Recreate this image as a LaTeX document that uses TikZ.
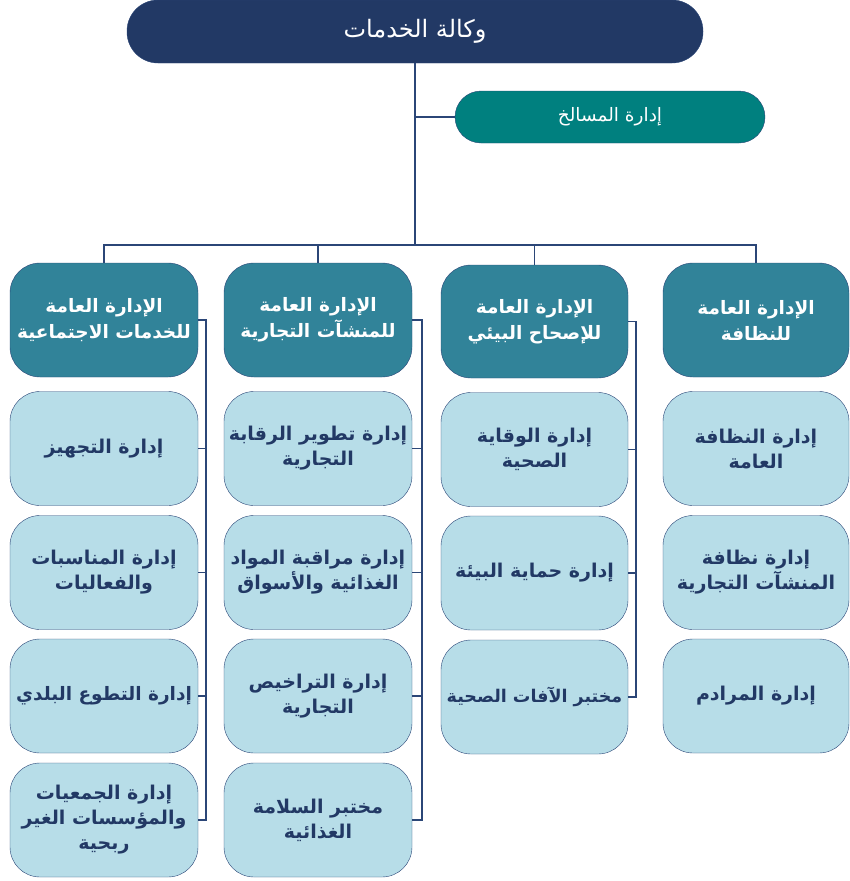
\documentclass[tikz,border=0pt]{standalone}
\usepackage{fontspec}
\newfontfamily\arabicfont[Script=Arabic]{DejaVu Sans}
\TeXXeTstate=1
\newcommand{\artxt}[1]{\beginR #1\endR}
\definecolor{navy}{HTML}{223965}
\definecolor{teal1}{HTML}{00807F}
\definecolor{teal2}{HTML}{318399}
\definecolor{lightb}{HTML}{B7DDE8}
\definecolor{linec}{HTML}{2B4677}
\definecolor{txtc}{HTML}{223965}
\tikzset{
  topbox/.style={draw=linec, fill=navy, rounded corners=31pt, minimum width=576pt, minimum height=63pt, inner sep=0pt, text=white, font=\arabicfont\fontsize{24}{28}\selectfont},
  masbox/.style={draw=linec, fill=teal1, rounded corners=26pt, minimum width=310pt, minimum height=52pt, inner sep=0pt, text=white, font=\arabicfont\fontsize{18.5}{22}\selectfont},
  headbox/.style={draw=linec, fill=teal2, rounded corners=30pt, minimum width=188pt, minimum height=114pt, inner sep=0pt, text=white, align=center, font=\arabicfont\bfseries\fontsize{18.5}{26}\selectfont},
  childbox/.style={draw=linec, fill=lightb, rounded corners=30pt, minimum width=188pt, minimum height=114pt, inner sep=0pt, text=txtc, align=center, font=\arabicfont\bfseries\fontsize{19}{25}\selectfont},
  smalltxt/.style={font=\arabicfont\bfseries\fontsize{17.5}{25}\selectfont},
  midtxt/.style={font=\arabicfont\bfseries\fontsize{18.5}{25}\selectfont},
  conn/.style={draw=linec, line width=1.2pt}
}
\begin{document}
\begin{tikzpicture}[x=1pt,y=-1pt]
\useasboundingbox (0,0) rectangle (849,881);
% top
\node[topbox] (top) at (415,31.5) {\artxt{وكالة الخدمات}};
\node[masbox] (mas) at (610,117) {\artxt{إدارة المسالخ}};
% headers
\node[headbox] (h1) at (104,320) {\artxt{الإدارة العامة}\\\artxt{للخدمات الاجتماعية}};
\node[headbox] (h2) at (318,320) {\artxt{الإدارة العامة}\\\artxt{للمنشآت التجارية}};
\node[headbox, minimum width=187pt, minimum height=113pt] (h3) at (534.5,321.5) {\artxt{الإدارة العامة}\\\artxt{للإصحاح البيئي}};
\node[headbox, minimum width=186pt] (h4) at (756,320) {\artxt{الإدارة العامة}\\\artxt{للنظافة}};
% column 1
\node[childbox] (c11) at (104,448.5) {\artxt{إدارة التجهيز}};
\node[childbox] (c12) at (104,572.5) {\artxt{إدارة المناسبات}\\\artxt{والفعاليات}};
\node[childbox, midtxt] (c13) at (104,696) {\artxt{إدارة التطوع البلدي}};
\node[childbox] (c14) at (104,820) {\artxt{إدارة الجمعيات}\\\artxt{والمؤسسات الغير}\\\artxt{ربحية}};
% column 2
\node[childbox] (c21) at (318,448.5) {\artxt{إدارة تطوير الرقابة}\\\artxt{التجارية}};
\node[childbox] (c22) at (318,572.5) {\artxt{إدارة مراقبة المواد}\\\artxt{الغذائية والأسواق}};
\node[childbox] (c23) at (318,696) {\artxt{إدارة التراخيص}\\\artxt{التجارية}};
\node[childbox] (c24) at (318,820) {\artxt{مختبر السلامة}\\\artxt{الغذائية}};
% column 3
\node[childbox, minimum width=187pt] (c31) at (534.5,449.5) {\artxt{إدارة الوقاية}\\\artxt{الصحية}};
\node[childbox, minimum width=187pt] (c32) at (534.5,573) {\artxt{إدارة حماية البيئة}};
\node[childbox, minimum width=187pt, smalltxt] (c33) at (534.5,697) {\artxt{مختبر الآفات الصحية}};
% column 4
\node[childbox, minimum width=186pt] (c41) at (756,448.5) {\artxt{إدارة النظافة}\\\artxt{العامة}};
\node[childbox, minimum width=186pt] (c42) at (756,572.5) {\artxt{إدارة نظافة}\\\artxt{المنشآت التجارية}};
\node[childbox, minimum width=186pt] (c43) at (756,696) {\artxt{إدارة المرادم}};
% connectors
\coordinate (j) at (415,245);
\draw[conn] (top.south) -- (j);
\draw[conn] (top.south |- mas.west) -- (mas.west);
\draw[conn] (h1.north) |- (j) -| (h4.north);
\draw[conn] (h2.north) -- (h2.north |- j);
\draw[conn] (h3.north) -- (h3.north |- j);
% column side lines
\coordinate (s1) at (206,320);
\draw[conn] (h1.east) -- (s1) -- (s1 |- c14.east) -- (c14.east);
\draw[conn] (c11.east) -- (c11.east -| s1);
\draw[conn] (c12.east) -- (c12.east -| s1);
\draw[conn] (c13.east) -- (c13.east -| s1);
\coordinate (s2) at (422,320);
\draw[conn] (h2.east) -- (s2) -- (s2 |- c24.east) -- (c24.east);
\draw[conn] (c21.east) -- (c21.east -| s2);
\draw[conn] (c22.east) -- (c22.east -| s2);
\draw[conn] (c23.east) -- (c23.east -| s2);
\coordinate (s3) at (636,321.5);
\draw[conn] (h3.east) -- (s3) -- (s3 |- c33.east) -- (c33.east);
\draw[conn] (c31.east) -- (c31.east -| s3);
\draw[conn] (c32.east) -- (c32.east -| s3);
\end{tikzpicture}
\end{document}
